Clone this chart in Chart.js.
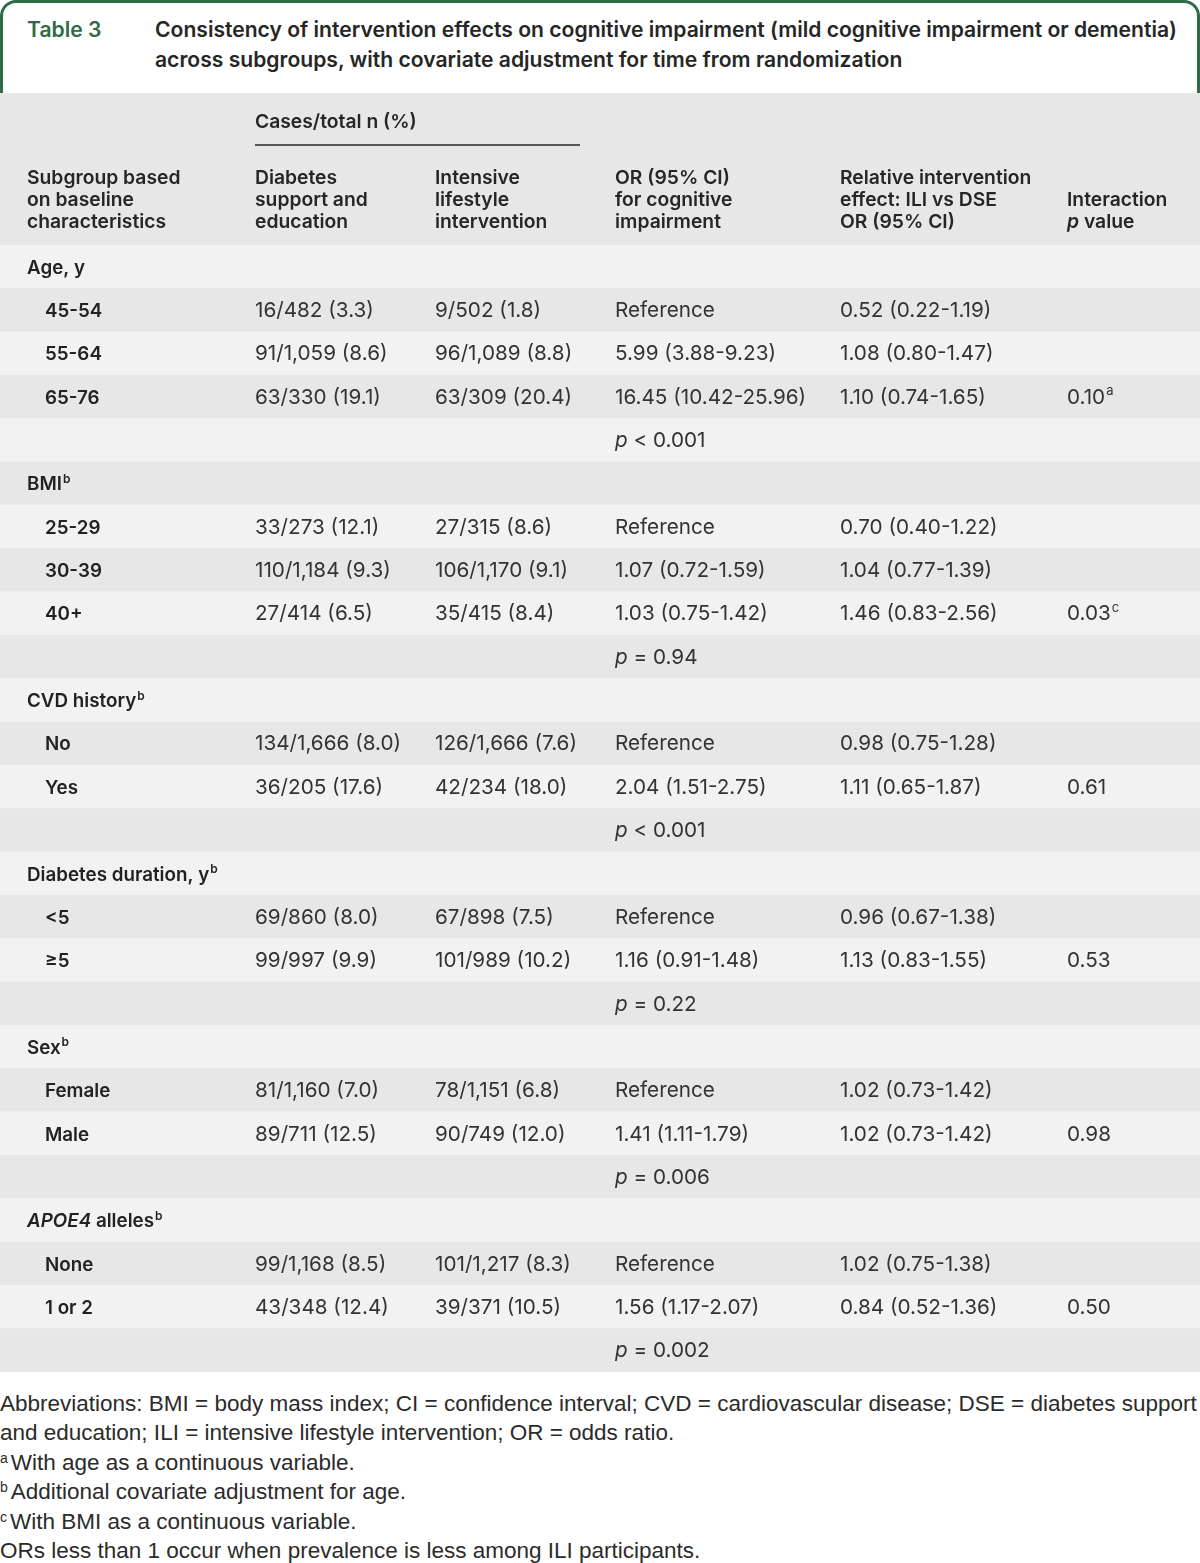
<!DOCTYPE html>
<html>
<head>
<meta charset="utf-8">
<script src="https://cdn.jsdelivr.net/npm/chart.js@4.4.1/dist/chart.umd.min.js"></script>
<style>
  html, body { margin: 0; padding: 0; background: #fff; }
  body { width: 1200px; height: 1563px; position: relative; overflow: hidden; color: #2b2b2b; font-family: Inter, Roboto, sans-serif; }
  #head { position: absolute; left: 0; top: 0; width: 1200px; height: 96px; box-sizing: border-box; border: 3px solid #2e6b47; border-bottom: none; border-radius: 16px 16px 0 0; }
  #tag { position: absolute; left: 24px; top: 12px; font-weight: 600; font-size: 21px; line-height: 30px; color: #2e6b47; }
  #title { position: absolute; left: 152px; top: 12px; font-weight: 600; font-size: 21px; line-height: 30px; white-space: nowrap; color: #262626; }
  #wrap { position: absolute; left: 0; top: 93px; width: 1200px; height: 1279px; }
  #notes { position: absolute; left: 0; top: 1389px; font-family: "Liberation Sans", sans-serif; font-size: 21px; line-height: 29.4px; white-space: nowrap; color: #2b2b2b; }
  #notes div { margin: 0; }
  #notes sup { font-size: 14px; vertical-align: 7px; line-height: 0; margin-right: 3px; }
</style>
</head>
<body>
<div id="head">
  <div id="tag">Table 3</div>
  <div id="title"><span id="title1">Consistency of intervention effects on cognitive impairment (mild cognitive impairment or dementia)</span><br>across subgroups, with covariate adjustment for time from randomization</div>
</div>
<div id="wrap"><canvas id="table" width="1200" height="1279"></canvas></div>
<div id="notes">
  <div id="note1">Abbreviations: BMI = body mass index; CI = confidence interval; CVD = cardiovascular disease; DSE = diabetes support</div>
  <div>and education; ILI = intensive lifestyle intervention; OR = odds ratio.</div>
  <div><sup>a</sup>With age as a continuous variable.</div>
  <div><sup>b</sup>Additional covariate adjustment for age.</div>
  <div><sup>c</sup>With BMI as a continuous variable.</div>
  <div>ORs less than 1 occur when prevalence is less among ILI participants.</div>
</div>
<script>
// table data, one entry per row ('*x*' = italic, '^x' = superscript)
const rowKinds = [
  'group', 'item', 'item', 'item', 'p',
  'group', 'item', 'item', 'item', 'p',
  'group', 'item', 'item', 'p',
  'group', 'item', 'item', 'p',
  'group', 'item', 'item', 'p',
  'group', 'item', 'item', 'p'
];
const subgroupLabels = [
  'Age, y', '45-54', '55-64', '65-76', '',
  'BMI^b', '25-29', '30-39', '40+', '',
  'CVD history^b', 'No', 'Yes', '',
  'Diabetes duration, y^b', '<5', '≥5', '',
  'Sex^b', 'Female', 'Male', '',
  '*APOE4* alleles^b', 'None', '1 or 2', ''
];
const dseCases = [
  '', '16/482 (3.3)', '91/1,059 (8.6)', '63/330 (19.1)', '',
  '', '33/273 (12.1)', '110/1,184 (9.3)', '27/414 (6.5)', '',
  '', '134/1,666 (8.0)', '36/205 (17.6)', '',
  '', '69/860 (8.0)', '99/997 (9.9)', '',
  '', '81/1,160 (7.0)', '89/711 (12.5)', '',
  '', '99/1,168 (8.5)', '43/348 (12.4)', ''
];
const iliCases = [
  '', '9/502 (1.8)', '96/1,089 (8.8)', '63/309 (20.4)', '',
  '', '27/315 (8.6)', '106/1,170 (9.1)', '35/415 (8.4)', '',
  '', '126/1,666 (7.6)', '42/234 (18.0)', '',
  '', '67/898 (7.5)', '101/989 (10.2)', '',
  '', '78/1,151 (6.8)', '90/749 (12.0)', '',
  '', '101/1,217 (8.3)', '39/371 (10.5)', ''
];
const orCognitive = [
  '', 'Reference', '5.99 (3.88-9.23)', '16.45 (10.42-25.96)', '*p* < 0.001',
  '', 'Reference', '1.07 (0.72-1.59)', '1.03 (0.75-1.42)', '*p* = 0.94',
  '', 'Reference', '2.04 (1.51-2.75)', '*p* < 0.001',
  '', 'Reference', '1.16 (0.91-1.48)', '*p* = 0.22',
  '', 'Reference', '1.41 (1.11-1.79)', '*p* = 0.006',
  '', 'Reference', '1.56 (1.17-2.07)', '*p* = 0.002'
];
const relativeEffect = [
  '', '0.52 (0.22-1.19)', '1.08 (0.80-1.47)', '1.10 (0.74-1.65)', '',
  '', '0.70 (0.40-1.22)', '1.04 (0.77-1.39)', '1.46 (0.83-2.56)', '',
  '', '0.98 (0.75-1.28)', '1.11 (0.65-1.87)', '',
  '', '0.96 (0.67-1.38)', '1.13 (0.83-1.55)', '',
  '', '1.02 (0.73-1.42)', '1.02 (0.73-1.42)', '',
  '', '1.02 (0.75-1.38)', '0.84 (0.52-1.36)', ''
];
const interactionP = [
  '', '', '', '0.10^a', '',
  '', '', '', '0.03^c', '',
  '', '', '0.61', '',
  '', '', '0.53', '',
  '', '', '0.98', '',
  '', '', '0.50', ''
];
const spanHeader = 'Cases/total n (%)';
const columnHeaders = [
  ['Subgroup based', 'on baseline', 'characteristics'],
  ['Diabetes', 'support and', 'education'],
  ['Intensive', 'lifestyle', 'intervention'],
  ['OR (95% CI)', 'for cognitive', 'impairment'],
  ['Relative intervention', 'effect: ILI vs DSE', 'OR (95% CI)'],
  ['', 'Interaction', '*p* value']
];

// layout (canvas px)
const FONT = 'Inter, Roboto, sans-serif';
const NOTE_FONT = '"Liberation Sans", sans-serif';
const COL_X = [27, 255, 435, 615, 840, 1067];
const INDENT_X = 45;
const HEAD_TOP = 152;
const HEAD_LINES = [91, 113, 135];
const SPAN_Y = 35;
const SPAN_RULE = { y: 52, x0: 255, x1: 580 };
const DARK = '#e6e7e6';
const LIGHT = '#f2f2f2';

// pick font sizes so sample strings span the widths seen in the picture
const meas = document.createElement('canvas').getContext('2d');
function fitSize(sample, target, weight, family) {
  meas.font = `${weight} 100px ${family}`;
  return Math.round(1000 * target / meas.measureText(sample).width) / 10;
}
const TEXT_SIZE = fitSize('16.45 (10.42-25.96)', 191, 400, FONT);
const LABEL_SIZE = fitSize('Diabetes duration, y', 182, 600, FONT);
const HEAD_SIZE = fitSize('Relative intervention', 191, 600, FONT);
const TITLE_SIZE = fitSize(document.getElementById('title1').textContent, 1020, 600, FONT);
const NOTE_SIZE = fitSize(document.getElementById('note1').textContent, 1196, 400, NOTE_FONT);
document.getElementById('title').style.fontSize = TITLE_SIZE + 'px';
document.getElementById('tag').style.fontSize = TITLE_SIZE + 'px';
document.getElementById('notes').style.fontSize = NOTE_SIZE + 'px';

function drawRich(ctx, text, x, y, weight, size) {
  const parts = text.split(/(\*[^*]+\*|\^[a-z])/).filter(Boolean);
  let cx = x;
  parts.forEach(p => {
    let style = 'normal', sz = size, dy = 0, t = p;
    if (p[0] === '*') { style = 'italic'; t = p.slice(1, -1); }
    else if (p[0] === '^') { sz = Math.round(size * 0.62); dy = -size * 0.4; t = p.slice(1); cx += 1; }
    ctx.font = `${style} ${weight} ${sz}px ${FONT}`;
    ctx.fillText(t, cx, y + dy);
    cx += ctx.measureText(t).width;
  });
}

const tableText = {
  id: 'tableText',
  beforeDraw(chart) {
    const { ctx, chartArea } = chart;
    ctx.save();
    ctx.fillStyle = DARK;
    ctx.fillRect(0, 0, chart.width, chartArea.top);
    ctx.restore();
  },
  afterDatasetsDraw(chart) {
    const { ctx, scales: { x, y } } = chart;
    ctx.save();
    ctx.textBaseline = 'alphabetic';
    ctx.textAlign = 'left';

    // header
    ctx.fillStyle = '#262626';
    drawRich(ctx, spanHeader, x.getPixelForValue(COL_X[1]), SPAN_Y, 600, HEAD_SIZE);
    ctx.strokeStyle = '#262626';
    ctx.lineWidth = 1.5;
    ctx.beginPath();
    ctx.moveTo(x.getPixelForValue(SPAN_RULE.x0), SPAN_RULE.y);
    ctx.lineTo(x.getPixelForValue(SPAN_RULE.x1), SPAN_RULE.y);
    ctx.stroke();
    columnHeaders.forEach((lines, c) => {
      lines.forEach((ln, k) => {
        if (ln) drawRich(ctx, ln, x.getPixelForValue(COL_X[c]), HEAD_LINES[k], 600, HEAD_SIZE);
      });
    });

    // body rows
    const cols = [dseCases, iliCases, orCognitive, relativeEffect, interactionP];
    subgroupLabels.forEach((lab, i) => {
      const cy = y.getPixelForValue(i) + 7;
      if (lab) {
        const lx = rowKinds[i] === 'group' ? COL_X[0] : INDENT_X;
        ctx.fillStyle = '#222';
        drawRich(ctx, lab, x.getPixelForValue(lx), cy, 600, LABEL_SIZE);
      }
      ctx.fillStyle = '#333';
      cols.forEach((arr, c) => {
        if (arr[i]) drawRich(ctx, arr[i], x.getPixelForValue(COL_X[c + 1]), cy, 400, TEXT_SIZE);
      });
    });
    ctx.restore();
  }
};

const stripeSpan = [0, 1200];

new Chart(document.getElementById('table'), {
  type: 'bar',
  data: {
    labels: subgroupLabels,
    datasets: [{
      data: subgroupLabels.map(() => stripeSpan),
      backgroundColor: ctx => (ctx.dataIndex % 2 ? DARK : LIGHT),
      borderWidth: 0,
      barPercentage: 1,
      categoryPercentage: 1
    }]
  },
  options: {
    indexAxis: 'y',
    responsive: false,
    animation: false,
    layout: { padding: { top: HEAD_TOP, left: 0, right: 0, bottom: 0 } },
    scales: {
      x: { type: 'linear', min: 0, max: 1200, display: false },
      y: { type: 'category', display: false, offset: true }
    },
    plugins: { legend: { display: false }, tooltip: { enabled: false } }
  },
  plugins: [tableText]
});
</script>
</body>
</html>
